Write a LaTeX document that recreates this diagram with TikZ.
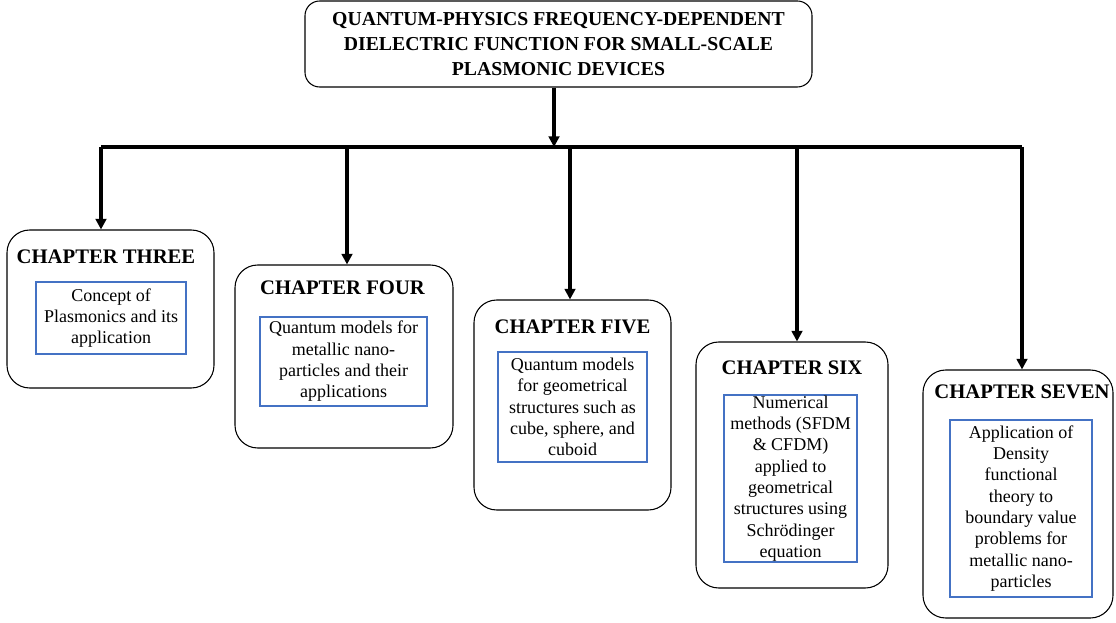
\documentclass[tikz,border=0pt]{standalone}
\usepackage{fontspec}
\setmainfont{Liberation Serif}
\usetikzlibrary{arrows.meta}
\definecolor{innerblue}{RGB}{68,114,196}
\tikzset{
  topbox/.style={draw=black, line width=0.8pt, rounded corners=11pt, align=center, inner sep=0pt,
     font=\bfseries\fontsize{14.8}{18.8}\selectfont},
  chapbox/.style={draw=black, line width=0.8pt, rounded corners=17pt, inner sep=0pt},
  chaptitle/.style={inner sep=0pt, font=\bfseries\fontsize{15.5}{18}\selectfont},
  contentbox/.style={draw=innerblue, line width=1pt, align=center, inner sep=0pt,
     font=\fontsize{13.5}{16}\selectfont},
  bus/.style={line width=2.3pt, line join=round},
  arr/.style={line width=2.3pt, -{Triangle[width=8pt,length=8pt]}}
}
\begin{document}
\begin{tikzpicture}[x=0.75pt,y=-0.75pt]
\path[use as bounding box] (0,0) rectangle (1116,623);

\node[topbox, minimum width=507*0.75pt, minimum height=86*0.75pt] (top) at (558.5,44)
  {QUANTUM-PHYSICS FREQUENCY-DEPENDENT\\DIELECTRIC FUNCTION FOR SMALL-SCALE\\PLASMONIC DEVICES};

% chapter three
\node[chapbox, minimum width=207*0.75pt, minimum height=158*0.75pt] (c3) at (110.5,309) {};
\node[chaptitle] (t3) at (106,257) {CHAPTER THREE};
\node[contentbox, minimum width=150*0.75pt, minimum height=72*0.75pt] (b3) at (111,318)
  {Concept of\\Plasmonics and its\\application};

% chapter four
\node[chapbox, minimum width=218*0.75pt, minimum height=183*0.75pt] (c4) at (344,356.5) {};
\node[chaptitle] (t4) at (342.5,288) {CHAPTER FOUR};
\node[contentbox, minimum width=167*0.75pt, minimum height=89*0.75pt] (b4) at (343.5,361.5)
  {Quantum models for\\metallic nano-\\particles and their\\applications};

% chapter five
\node[chapbox, minimum width=197*0.75pt, minimum height=210*0.75pt] (c5) at (572.5,405) {};
\node[chaptitle] (t5) at (572.5,327) {CHAPTER FIVE};
\node[contentbox, minimum width=149*0.75pt, minimum height=110*0.75pt] (b5) at (572.5,407)
  {Quantum models\\for geometrical\\structures such as\\cube, sphere, and\\cuboid};

% chapter six
\node[chapbox, minimum width=192*0.75pt, minimum height=246*0.75pt] (c6) at (792,465) {};
\node[chaptitle] (t6) at (792,368) {CHAPTER SIX};
\node[contentbox, minimum width=133*0.75pt, minimum height=167*0.75pt] (b6) at (790.5,478.5)
  {Numerical\\methods (SFDM\\\& CFDM)\\applied to\\geometrical\\structures using\\Schrödinger\\equation};

% chapter seven
\node[chapbox, minimum width=190*0.75pt, minimum height=248*0.75pt] (c7) at (1018,494) {};
\node[chaptitle] (t7) at (1022,392) {CHAPTER SEVEN};
\node[contentbox, minimum width=142*0.75pt, minimum height=177*0.75pt] (b7) at (1021,508.5)
  {Application of\\Density\\functional\\theory to\\boundary value\\problems for\\metallic nano-\\particles};

% connectors
\coordinate (j) at (554,147);
\coordinate (k3) at (101,147);
\coordinate (k4) at (347,147);
\coordinate (k5) at (570,147);
\coordinate (k6) at (797,147);
\coordinate (k7) at (1022,147);

\draw[bus] (k3) -- (k7);
\draw[arr] (top.south -| j) -- (j);
\draw[arr] (k3) -- (k3 |- c3.north);
\draw[arr] (k4) -- (k4 |- c4.north);
\draw[arr] (k5) -- (k5 |- c5.north);
\draw[arr] (k6) -- (k6 |- c6.north);
\draw[arr] (k7) -- (k7 |- c7.north);
\end{tikzpicture}
\end{document}
